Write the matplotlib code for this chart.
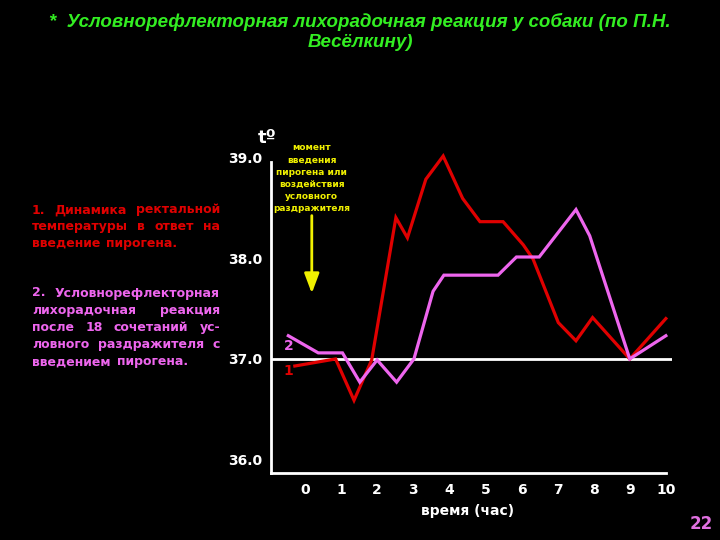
import matplotlib
matplotlib.use("Agg")
import matplotlib.pyplot as plt
import numpy as np

# --- data ---
hours = [0, 1, 2, 3, 4, 5, 6, 7, 8, 9, 10]
y_ticks = [36.0, 37.0, 38.0, 39.0]

# curve 1: rectal temperature after pyrogen injection
t1 = [-0.28, 0.85, 1.36, 1.85, 2.52, 2.84, 3.35, 3.83, 4.37, 4.85, 5.49, 6.05, 6.32, 7.02, 7.51, 7.97, 9.0, 10.0]
temp1 = [36.93, 37.0, 36.59, 36.99, 38.40, 38.20, 38.78, 39.01, 38.59, 38.36, 38.36, 38.13, 37.99, 37.36, 37.18, 37.41, 37.0, 37.40]

# curve 2: conditioned-reflex fever
t2 = [-0.46, 0.37, 1.04, 1.52, 2.0, 2.54, 3.02, 3.55, 3.85, 5.35, 5.86, 6.49, 7.51, 7.89, 9.0, 10.0]
temp2 = [37.23, 37.06, 37.06, 36.77, 36.99, 36.77, 37.0, 37.67, 37.83, 37.83, 38.01, 38.01, 38.48, 38.22, 37.0, 37.23]

arrow_x = 0.19
arrow_top, arrow_tip = 38.42, 37.65

title = "*  Условнорефлекторная лихорадочная реакция у собаки (по П.Н.\nВесёлкину)"
note = "момент\nвведения\nпирогена или\nвоздействия\nусловного\nраздражителя"
text1 = ["1. Динамика ректальной", "температуры в ответ на", "введение пирогена."]
text2 = ["2. Условнорефлекторная", "лихорадочная реакция", "после 18 сочетаний ус-",
         "ловного раздражителя с", "введением пирогена."]

RED = "#e00000"
PINK = "#ee66ee"
GREEN = "#33ee22"
YELLOW = "#f0f000"

W, H = 720, 540
fig = plt.figure(figsize=(7.2, 5.4), dpi=100, facecolor="black")
ax = fig.add_axes([271 / W, 1 - 473 / H, (672 - 271) / W, (473 - 150) / H])
ax.set_facecolor("black")
ax.set_xlim(-0.94, 10.17)
ax.set_ylim(35.87, 39.07)

ax.axhline(37.0, color="white", lw=2)
ax.plot(t1, temp1, color=RED, lw=2.3, solid_joinstyle="miter")
ax.plot(t2, temp2, color=PINK, lw=2.3, solid_joinstyle="miter")

for s in ["top", "right"]:
    ax.spines[s].set_visible(False)
ax.spines["left"].set_color("white")
ax.spines["bottom"].set_color("white")
ax.spines["left"].set_linewidth(2)
ax.spines["bottom"].set_linewidth(2)
ax.spines["bottom"].set_bounds(-0.94, 10.0)
ax.spines["left"].set_bounds(35.87, 38.95)

ax.set_xticks(hours)
ax.set_xticklabels([str(h) for h in hours])
ax.set_yticks(y_ticks)
ax.set_yticklabels([f"{v:.1f}" for v in y_ticks])
ax.tick_params(length=0, colors="white", labelsize=10)
ax.tick_params(axis="x", pad=7)
ax.tick_params(axis="y", pad=6)
for lab in ax.get_xticklabels() + ax.get_yticklabels():
    lab.set_fontweight("bold")

ax.set_xlabel("время (час)", color="white", fontsize=10, fontweight="bold")
ax.xaxis.set_label_coords(0.49, -0.095)

ax.text(-1.05, 39.1, "tº", color="white", fontsize=13, fontweight="bold",
        ha="center", va="bottom", clip_on=False)
ax.text(-0.45, 37.13, "2", color=PINK, fontsize=10, fontweight="bold", ha="center", va="center")
ax.text(-0.45, 36.88, "1", color=RED, fontsize=10, fontweight="bold", ha="center", va="center")

ax.annotate("", xy=(arrow_x, arrow_tip), xytext=(arrow_x, arrow_top),
            arrowprops=dict(arrowstyle="-|>,head_length=1.2,head_width=0.45",
                            color=YELLOW, lw=2, shrinkA=0, shrinkB=0))
ax.text(arrow_x, 38.79, note, color=YELLOW, fontsize=6.5, fontweight="bold",
        ha="center", va="center", linespacing=1.45, clip_on=False)

fig.text(360 / W, 1 - 32 / H, title, color=GREEN, fontsize=13.5, fontweight="bold",
         style="italic", family=["Liberation Sans", "DejaVu Sans"],
         ha="center", va="center", linespacing=1.3)

fig.text(701 / W, 1 - 524 / H, "22", color="#e070e0", fontsize=12, fontweight="bold",
         ha="center", va="center")


def justified(lines, x0, x1, y_top, dy, color, size):
    renderer = fig.canvas.get_renderer()
    for i, line in enumerate(lines):
        y = 1 - (y_top + i * dy) / H
        words = line.split()
        texts = [fig.text(0, y, w, color=color, fontsize=size, fontweight="bold",
                          va="center", ha="left") for w in words]
        widths = [t.get_window_extent(renderer).width for t in texts]
        if i == len(lines) - 1 or len(words) == 1:
            gap = 6
        else:
            gap = max(4, (x1 - x0 - sum(widths)) / (len(words) - 1))
        x = x0
        for t, w in zip(texts, widths):
            t.set_x(x / W)
            x += w + gap


justified(text1, 32, 220, 210, 16.5, RED, 9)
justified(text2, 32, 220, 293, 17.2, PINK, 9)

fig.savefig("out.png", dpi=100, facecolor="black")
